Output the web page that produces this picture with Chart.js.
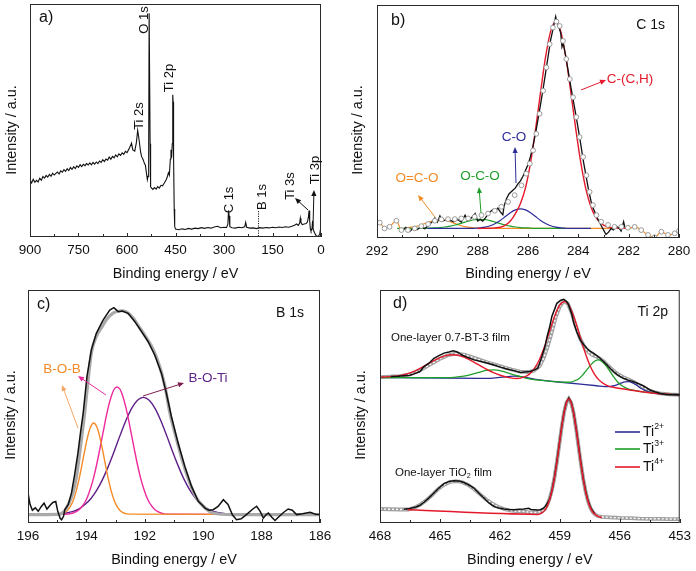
<!DOCTYPE html>
<html>
<head>
<meta charset="utf-8">
<script src="https://cdn.jsdelivr.net/npm/chart.js@4.4.1/dist/chart.umd.min.js"></script>
<style>
  html, body { margin: 0; padding: 0; background: #fff; }
  body { position: relative; width: 696px; height: 571px; overflow: hidden; }
  canvas { position: absolute; }
</style>
</head>
<body>
<canvas id="pa" width="348" height="285" style="left:0;top:0"></canvas>
<canvas id="pb" width="348" height="285" style="left:348px;top:0"></canvas>
<canvas id="pc" width="348" height="286" style="left:0;top:285px"></canvas>
<canvas id="pd" width="348" height="286" style="left:348px;top:285px"></canvas>
<script>
// ---- data: [binding energy (eV), intensity (a.u.)] ----
// a) survey
var survey = [[900,24.6],[895,23.2],[890,24.8],[885,23.5],[880,24.3],[875,23.6],[870,25.2],[865,24.4],[860,26.0],[855,25.3],[850,26.4],[845,25.7],[840,26.9],[835,26.1],[830,27.4],[825,26.6],[820,27.3],[815,27.9],[810,27.0],[805,28.4],[800,27.8],[795,28.9],[790,28.2],[785,29.3],[780,28.5],[775,29.8],[770,29.0],[765,30.2],[760,29.4],[755,30.5],[750,29.9],[745,31.0],[740,30.2],[735,31.2],[730,30.6],[725,31.5],[720,30.9],[715,31.8],[710,31.0],[705,32.0],[700,31.3],[695,32.2],[690,31.5],[685,32.6],[680,32.0],[675,33.2],[670,32.4],[665,33.5],[660,33.0],[655,34.3],[650,33.4],[645,34.6],[640,34.0],[635,35.2],[630,34.4],[625,35.7],[620,35.0],[615,36.1],[610,35.5],[605,36.8],[600,36.2],[595,37.5],[590,38.9],[586,40.3],[582,37.4],[576,36.9],[571,40.5],[567,45.8],[565,44.0],[562,41.0],[558,36.5],[555,34.6],[550,33.2],[546,31.5],[543,30.8],[540,27.5],[537,24.6],[535,26.0],[533,35.0],[531.5,96],[530,96],[528.5,40],[527,21.5],[524,21.0],[520,20.4],[515,21.2],[510,20.5],[505,21.6],[500,21.0],[495,22.2],[490,22.0],[485,23.1],[480,24.2],[476,25.5],[472,27.6],[469,26.5],[466,33.5],[464,37.5],[462,34.0],[460,40.0],[458.5,61.0],[457.5,58.0],[456,35.0],[454,12.0],[452.5,4.6],[450,3.4],[440,3.1],[430,3.5],[420,3.2],[410,3.7],[400,3.4],[390,3.8],[380,3.6],[370,4.0],[360,3.7],[350,4.1],[340,3.8],[330,4.3],[320,4.6],[310,4.0],[300,4.2],[292,4.1],[288,5.5],[286,11.4],[284,9.0],[282,4.4],[275,4.0],[265,3.8],[255,4.2],[245,4.0],[236,4.4],[233,6.3],[230,4.2],[220,3.8],[210,3.9],[200,3.6],[190,4.0],[180,3.8],[170,4.1],[160,3.9],[150,4.2],[140,4.0],[130,4.3],[120,4.1],[110,4.4],[100,4.2],[90,4.6],[82,5.0],[76,5.6],[70,5.0],[66,6.0],[64,8.1],[62,6.2],[58,5.3],[52,5.6],[46,5.8],[42,6.4],[39,8.5],[37,11.4],[35,7.0],[33,3.5],[31,2.6],[28,3.4],[26,7.0],[24,3.2],[20,1.8],[15,0.5],[11,0.2],[7,0.6],[4,1.2],[2,3.0],[0,2.4]];

// b) C 1s
var c1sRaw = [[291.0,3.0],[290.85,4.5],[290.7,2.8],[290.55,4.2],[290.4,3.6],[290.25,4.8],[290.1,4.0],[289.95,5.5],[289.8,7.0],[289.7,8.6],[289.6,6.8],[289.5,9.5],[289.4,7.2],[289.25,8.0],[289.1,7.6],[288.95,7.0],[288.8,8.0],[288.65,6.8],[288.5,9.8],[288.4,7.5],[288.25,8.6],[288.1,10.5],[288.0,7.3],[287.9,8.0],[287.8,7.2],[287.7,8.5],[287.55,10.8],[287.4,12.2],[287.3,11.5],[287.2,12.8],[287.1,11.2],[287.0,10.0],[286.95,13.8],[286.85,17.0],[286.75,19.0],[286.6,20.5],[286.5,21.5],[286.4,23.2],[286.3,24.5],[286.2,26.5],[286.1,29.0],[286.0,31.5],[285.9,35.0],[285.8,39.5],[285.7,45],[285.6,51],[285.5,57.5],[285.4,64],[285.3,71],[285.2,78],[285.1,85],[285.0,90],[284.9,95],[284.85,92.5],[284.8,91.5],[284.7,88],[284.65,82],[284.6,83.5],[284.5,78],[284.4,71.5],[284.3,65],[284.2,59],[284.1,53],[284.0,46.5],[283.9,40],[283.8,33],[283.7,27],[283.6,21],[283.5,16],[283.4,12.5],[283.3,10],[283.2,7.5],[283.1,5.5],[283.0,3.5],[282.9,1.5],[282.8,2.5],[282.7,4],[282.6,3.5],[282.5,5],[282.4,4.5],[282.3,3.0],[282.2,7.0],[282.15,4.5]];
var c1sFit = [[291.89,6.6],[291.7,4.1],[291.5,4.8],[291.23,7.4],[291.03,3.4],[290.77,3.4],[290.5,4.1],[290.24,5.1],[289.97,6.0],[289.7,7.4],[289.44,8.0],[289.18,8.1],[288.91,8.1],[288.65,8.4],[288.38,8.4],[288.12,9.1],[287.85,9.8],[287.59,10.5],[287.32,11.7],[287.06,13.4],[286.79,15.5],[286.53,18.4],[286.26,22.6],[286.07,27.6],[285.93,31.9],[285.8,37.6],[285.67,44.7],[285.54,53.3],[285.4,63.2],[285.27,73.2],[285.14,83.2],[285.01,90.3],[284.87,92.9],[284.74,91.0],[284.61,84.6],[284.48,76.8],[284.34,68.2],[284.21,60.4],[284.08,51.9],[283.95,43.3],[283.81,34.8],[283.68,26.9],[283.55,19.8],[283.42,14.1],[283.28,9.8],[283.09,7.0],[282.82,5.6],[282.56,4.8],[282.29,4.8],[282.03,4.4],[281.76,4.8],[281.5,3.4],[281.23,1.3],[280.97,0.3],[280.7,2.7],[280.44,1.3],[280.17,2.0],[280.0,3.1]];
var c1sCH = [[288.0,4.1],[287.5,4.2],[287.1,4.6],[286.9,5.5],[286.7,7.3],[286.5,10.5],[286.3,14.8],[286.1,21.5],[285.9,32.2],[285.7,46.6],[285.5,62.7],[285.3,77.8],[285.1,88.7],[284.9,92.7],[284.7,88.7],[284.5,77.8],[284.3,62.7],[284.1,46.6],[283.9,32.2],[283.7,21.0],[283.5,13.4],[283.3,8.8],[283.1,6.3],[282.9,5.0],[282.7,4.4],[282.5,4.2],[282.0,4.1]];
var c1sCO = [[290.0,4.1],[288.3,4.1],[288.1,4.19],[287.9,4.34],[287.7,4.65],[287.5,5.24],[287.3,6.19],[287.1,7.55],[286.9,9.19],[286.7,10.83],[286.5,12.05],[286.3,12.5],[286.1,12.05],[285.9,10.83],[285.7,9.19],[285.5,7.55],[285.3,6.19],[285.1,5.24],[284.9,4.65],[284.7,4.34],[284.5,4.19],[284.3,4.1],[283.5,4.1]];
var c1sOCO = [[291.2,4.1],[289.9,4.26],[289.7,4.34],[289.5,4.48],[289.3,4.71],[289.1,5.07],[288.9,5.57],[288.7,6.18],[288.5,6.83],[288.3,7.43],[288.1,7.85],[287.9,8.0],[287.7,7.85],[287.5,7.43],[287.3,6.83],[287.1,6.18],[286.9,5.57],[286.7,5.07],[286.5,4.71],[286.3,4.48],[286.1,4.34],[285.9,4.26],[285.7,4.1],[284.5,4.1]];
var c1sOCOO = [[292.0,6.6],[291.89,6.6],[291.7,4.1],[291.5,4.8],[291.23,7.4],[291.03,3.4],[290.9,4.3],[290.7,4.52],[290.5,4.87],[290.3,5.37],[290.1,6.2],[289.9,6.98],[289.7,7.5],[289.5,7.7],[289.3,7.5],[289.1,6.98],[288.9,6.2],[288.7,5.37],[288.5,4.87],[288.3,4.52],[288.1,4.3],[287.9,4.19],[287.7,4.1],[282.0,4.1],[281.76,4.8],[281.5,3.4],[281.23,1.3],[280.97,0.3],[280.7,2.7],[280.44,1.3],[280.17,2.0],[280.0,3.1]];

// c) B 1s
var b1sRaw = [[196.0,12.9],[195.93,8.0],[195.85,5.5],[195.75,6.5],[195.65,5.0],[195.55,7.0],[195.45,8.5],[195.35,6.0],[195.25,7.5],[195.15,8.8],[195.05,9.2],[194.98,5.0],[194.9,2.0],[194.85,1.4],[194.78,3.0],[194.74,5.7],[194.62,8.0],[194.51,12.9],[194.4,21.0],[194.29,30.0],[194.2,39.0],[194.11,47.2],[193.98,62.9],[193.83,74.3],[193.66,81.4],[193.43,87.1],[193.2,91.4],[193.06,92.4],[192.91,90.7],[192.77,91.0],[192.57,90.0],[192.34,86.4],[192.11,82.1],[191.89,77.9],[191.66,72.1],[191.43,64.3],[191.26,55.7],[191.09,45.7],[190.86,34.3],[190.63,24.3],[190.4,15.7],[190.17,9.3],[190.05,7.9],[189.94,6.4],[189.8,5.5],[189.66,5.7],[189.49,7.1],[189.31,10.0],[189.15,8.0],[189.0,3.5],[188.86,1.4],[188.7,1.8],[188.5,3.8],[188.3,6.0],[188.17,7.2],[188.05,5.0],[187.94,2.1],[187.85,3.5],[187.77,4.3],[187.65,2.5],[187.54,1.1],[187.4,2.8],[187.25,4.5],[187.09,6.0],[186.95,5.5],[186.8,3.6],[186.6,4.0],[186.34,4.6],[186.15,3.8],[186.0,3.6]];
var b1sFit = [[196.0,3.6],[195.0,3.7],[194.8,4.5],[194.62,8.0],[194.46,12.9],[194.34,20.0],[194.23,30.0],[194.14,39.0],[194.06,47.2],[193.94,61.5],[193.83,73.0],[193.66,80.1],[193.49,83.7],[193.31,87.3],[193.09,90.1],[192.8,91.1],[192.63,90.6],[192.4,88.0],[192.17,83.7],[191.94,79.4],[191.71,74.4],[191.49,67.2],[191.31,58.7],[191.14,47.2],[190.91,35.8],[190.69,25.8],[190.46,17.2],[190.23,10.7],[190.0,7.2],[189.66,4.3],[188.97,3.6],[186.0,3.6]];
var b1sBOB = [[196.0,3.6],[194.95,3.8],[194.85,4.0],[194.75,4.5],[194.65,5.4],[194.55,7.1],[194.45,9.8],[194.35,13.7],[194.25,18.9],[194.15,25.1],[194.05,31.6],[193.95,37.4],[193.85,41.4],[193.75,42.9],[193.65,41.4],[193.55,37.4],[193.45,31.6],[193.35,25.1],[193.25,18.9],[193.15,13.7],[193.05,9.8],[192.95,7.1],[192.85,5.4],[192.75,4.5],[192.65,4.0],[192.55,3.8],[186.0,3.6]];
var b1sBOB2 = [[196.0,3.6],[194.65,3.8],[194.55,4.0],[194.45,4.3],[194.35,4.9],[194.25,5.7],[194.15,7.1],[194.05,8.9],[193.95,11.6],[193.85,15.2],[193.75,19.6],[193.65,25.0],[193.55,31.1],[193.45,37.5],[193.35,43.9],[193.25,49.7],[193.15,54.3],[193.05,57.4],[192.95,58.4],[192.85,57.4],[192.75,54.3],[192.65,49.7],[192.55,43.9],[192.45,37.5],[192.35,31.1],[192.25,25.0],[192.15,19.6],[192.05,15.2],[191.95,11.6],[191.85,8.9],[191.75,7.1],[191.65,5.7],[191.55,4.9],[191.45,4.3],[191.35,4.0],[191.25,3.8],[186.0,3.6]];
var b1sBOTi = [[196.0,3.6],[195.05,3.8],[194.85,4.0],[194.65,4.4],[194.45,5.0],[194.25,6.1],[194.05,7.9],[193.85,10.4],[193.65,14.0],[193.45,18.6],[193.25,24.3],[193.05,30.7],[192.85,37.5],[192.65,43.9],[192.45,49.2],[192.25,52.7],[192.05,53.9],[191.85,52.7],[191.65,49.2],[191.45,43.9],[191.25,37.5],[191.05,30.7],[190.85,24.3],[190.65,18.6],[190.45,14.0],[190.25,10.4],[190.05,7.9],[189.85,6.1],[189.65,5.0],[189.45,4.4],[189.25,4.0],[189.05,3.8],[186.0,3.6]];

// d) Ti 2p, one-layer 0.7-BT-3 film (upper) and TiO2 film (lower)
var btRaw = [[467.45,62.9],[467.1,63.0],[466.8,63.2],[466.5,63.4],[466.3,64.0],[466.0,65.0],[465.8,67.1],[465.55,68.6],[465.3,70.7],[465.05,71.8],[464.8,72.9],[464.55,73.4],[464.33,73.9],[464.1,73.3],[463.9,72.1],[463.6,71.0],[463.3,70.0],[462.95,69.3],[462.6,68.6],[462.3,67.8],[461.97,66.9],[461.65,66.1],[461.3,65.4],[460.97,64.6],[460.75,64.8],[460.5,65.0],[460.3,65.6],[460.1,66.4],[459.9,71.4],[459.75,75.5],[459.64,80.0],[459.5,84.5],[459.4,88.6],[459.25,92.0],[459.15,94.3],[458.95,95.6],[458.8,96.0],[458.65,95.0],[458.56,93.6],[458.4,89.5],[458.3,85.7],[458.15,82.0],[457.98,78.6],[457.8,76.5],[457.65,75.0],[457.5,73.9],[457.32,72.9],[457.15,71.8],[456.99,70.7],[456.8,69.2],[456.65,67.9],[456.5,66.5],[456.32,65.0],[456.1,63.5],[455.82,62.1],[455.55,61.2],[455.33,60.7],[455.1,59.9],[454.83,58.9],[454.65,58.0],[454.5,57.1],[454.25,56.3],[454.0,55.7],[453.7,55.2],[453.5,55.0],[453.2,55.1],[453.0,55.0]];
var btFit = [[468,62.6],[467.5,62.8],[467,63.0],[466.5,63.8],[466,65.5],[465.5,68.0],[465,70.5],[464.6,72.0],[464.2,72.7],[463.8,72.3],[463.4,71.2],[463,70.0],[462.6,68.9],[462.2,67.9],[461.8,66.8],[461.4,65.8],[461,65.0],[460.6,64.8],[460.3,65.3],[460,67.5],[459.8,71],[459.6,76],[459.4,82],[459.2,88.5],[459,93],[458.8,95.2],[458.6,94.2],[458.4,90],[458.2,84.5],[458,79.5],[457.8,76],[457.6,73.6],[457.4,72.3],[457.2,71.5],[457,70.6],[456.8,69.3],[456.6,67.6],[456.4,66.0],[456.2,64.5],[456,63.4],[455.8,62.5],[455.5,61.4],[455.2,60.0],[454.9,58.6],[454.6,57.2],[454.3,56.2],[454,55.6],[453.5,55.2],[453,55.0]];
var btTi4 = [[468,62.6],[467.55,62.8],[467.15,63.1],[466.75,63.8],[466.35,64.9],[465.95,66.6],[465.55,68.5],[465.15,70.3],[464.75,71.7],[464.35,72.2],[463.95,71.6],[463.55,70.2],[463.15,68.3],[462.75,66.4],[462.35,64.6],[461.95,63.3],[461.55,62.4],[461.15,62.0],[460.77,62.7],[460.52,63.9],[460.27,66.33],[460.02,70.15],[459.77,75.6],[459.52,82.15],[459.27,88.55],[459.02,93.35],[458.77,95.0],[458.52,92.96],[458.27,87.75],[458.02,80.94],[457.77,74.0],[457.52,68.15],[457.27,63.93],[457.02,61.21],[456.77,59.58],[456.52,58.63],[456.27,58.16],[455.5,57.1],[454.3,55.7],[453,55.0]];
var btTi3 = [[468,62.4],[464.7,62.4],[464.3,62.5],[463.9,62.9],[463.5,63.6],[463.1,64.5],[462.7,65.5],[462.3,65.7],[461.9,65.2],[461.5,64.1],[461.1,63.1],[460.7,62.2],[460.3,61.5],[459.9,61.2],[459.3,60.65],[458.65,60.4],[458.45,60.5],[458.25,61.05],[458.05,61.95],[457.85,63.6],[457.65,65.75],[457.45,67.85],[457.25,69.5],[457.05,70.0],[456.85,69.1],[456.65,67.05],[456.45,64.55],[456.25,62.05],[456.05,60.0],[455.85,58.7],[455.65,57.8],[455.45,57.25],[454.3,55.7],[453,55.0]];
var btTi2 = [[468,62.5],[463,62.1],[462.5,62.1],[461.9,62.6],[461.3,63.0],[460.7,62.5],[460.1,61.5],[458.8,60.3],[457.15,58.9],[456.75,58.55],[456.55,58.55],[456.35,58.8],[456.15,59.3],[455.95,60.0],[455.75,60.6],[455.55,60.7],[455.35,60.1],[455.15,59.1],[454.95,57.8],[454.75,56.9],[454.55,56.3],[454.35,55.85],[453,55.0]];
var tiRaw = [[466.8,5.9],[466.5,6.2],[466.2,6.9],[466.0,7.6],[465.8,8.9],[465.55,10.8],[465.3,12.9],[465.05,15.0],[464.8,16.9],[464.55,17.8],[464.3,18.1],[464.05,18.0],[463.8,17.4],[463.55,16.3],[463.3,15.0],[463.05,12.8],[462.8,10.7],[462.55,8.6],[462.3,7.1],[462.05,6.4],[461.8,6.0],[461.55,5.8],[461.3,5.7],[461.05,5.9],[460.8,6.0],[460.56,6.3],[460.45,5.8],[460.3,5.7],[460.1,5.6],[459.98,5.7],[459.85,6.2],[459.73,7.1],[459.6,8.8],[459.5,10.6],[459.39,14.2],[459.27,19.6],[459.15,26.3],[459.03,33.8],[458.91,41.3],[458.79,47.5],[458.67,51.8],[458.55,53.6],[458.43,51.8],[458.31,47.4],[458.19,40.9],[458.07,33.4],[457.95,25.9],[457.83,19.2],[457.71,13.7],[457.59,9.6],[457.47,6.8],[457.35,5.0],[457.25,4.0]];
var tiFit = [[468,6.0],[467.5,5.9],[467,5.8],[466.6,5.8],[466.3,6.5],[466,7.8],[465.7,9.6],[465.4,12.0],[465.1,14.5],[464.8,16.4],[464.5,17.6],[464.2,18.0],[463.9,17.6],[463.6,16.4],[463.3,14.6],[463,12.4],[462.7,10.2],[462.4,8.4],[462.1,7.0],[461.8,6.0],[461.5,5.4],[461.2,5.1],[460.9,5.0],[460.6,4.7],[460.3,4.5],[460.1,4.6],[459.87,5.0],[459.75,6.0],[459.63,7.8],[459.51,10.5],[459.39,14.3],[459.27,19.5],[459.15,26.1],[459.03,33.5],[458.91,41.0],[458.79,47.4],[458.67,51.6],[458.55,53.3],[458.43,51.5],[458.31,47.2],[458.19,40.7],[458.07,33.2],[457.95,25.7],[457.83,18.9],[457.71,13.5],[457.59,9.4],[457.47,6.5],[457.35,4.7],[457.23,3.6],[457.11,3.0],[456.9,2.6],[456.5,2.4],[456,2.2],[455.5,2.1],[455,1.9],[454.5,1.8],[454,1.8],[453.5,1.7],[453,1.7]];
var tiTi4 = [[466.62,5.7],[460.11,3.7],[459.99,3.94],[459.87,4.55],[459.75,5.51],[459.63,7.27],[459.51,10.02],[459.39,14.08],[459.27,19.44],[459.15,26.1],[459.03,33.56],[458.91,41.0],[458.79,47.37],[458.67,51.64],[458.55,53.2],[458.43,51.55],[458.31,47.2],[458.19,40.75],[458.07,33.22],[457.95,25.68],[457.83,18.94],[457.71,13.5],[457.59,9.36],[457.47,6.51],[457.35,4.67],[457.23,3.63],[457.11,2.96],[456.9,2.3]];

// axis ranges [from, to, step]
var rangeA = [900, 0, 150];
var rangeB = [292, 280, 2];
var rangeC = [196, 186, 2];
var rangeD = [468, 453, 3];

var FONT = '"Liberation Sans", Arial, Helvetica, sans-serif';
Chart.defaults.font.family = FONT;
Chart.defaults.color = '#111';

var RED = '#e5192b', GREEN = '#1f9f29', BLUE = '#2d2d98', ORANGE = '#f38b26',
    MAGENTA = '#ec2a9b', PURPLE = '#5c1f88', BLACK = '#111';

function pts(arr) {
    return arr.map(function (p) { return {x: p[0], y: p[1]}; });
}

function line(arr, color, width, order, extra) {
    var ds = {
        data: pts(arr),
        showLine: true,
        borderColor: color,
        borderWidth: width,
        pointRadius: 0,
        fill: false,
        tension: 0,
        order: order
    };
    for (var k in extra || {}) ds[k] = extra[k];
    return ds;
}
var SMOOTH = {cubicInterpolationMode: 'monotone'};

// frame, inward ticks, labels, arrows
function decor(cfg) {
    return {
        id: 'decor',
        afterDatasetsDraw: function (chart) {
            var ctx = chart.ctx, a = chart.chartArea, xs = chart.scales.x;
            ctx.save();
            ctx.strokeStyle = '#2a2a2a';
            ctx.lineWidth = 1;
            ctx.strokeRect(a.left + 0.5, a.top + 0.5, a.right - a.left - 1, a.bottom - a.top - 1);

            var lo = Math.min(cfg.range[0], cfg.range[1]), hi = Math.max(cfg.range[0], cfg.range[1]);
            var step = cfg.range[2];
            for (var i = 0; lo + i * step / 2 <= hi + 1e-6; i++) {
                var px = Math.round(xs.getPixelForValue(lo + i * step / 2)) + 0.5;
                ctx.beginPath();
                ctx.moveTo(px, a.bottom);
                ctx.lineTo(px, a.bottom - (i % 2 === 0 ? 4 : 3));
                ctx.stroke();
            }

            // y title
            text(ctx, {t: 'Intensity / a.u.', x: cfg.ytitle[0], y: cfg.ytitle[1], s: 14.4, rot: 1});

            (cfg.dots || []).forEach(function (d) {
                ctx.save();
                ctx.strokeStyle = '#222';
                ctx.setLineDash([1.2, 1.2]);
                ctx.beginPath();
                ctx.moveTo(d[0], d[1]);
                ctx.lineTo(d[0], d[2]);
                ctx.stroke();
                ctx.restore();
            });
            (cfg.arrows || []).forEach(function (ar) { arrow(ctx, ar); });
            (cfg.texts || []).forEach(function (t) { text(ctx, t); });
            (cfg.rich || []).forEach(function (r) { rich(ctx, r); });
            (cfg.keys || []).forEach(function (k) {
                ctx.strokeStyle = k.c;
                ctx.lineWidth = 1.6;
                ctx.beginPath();
                ctx.moveTo(k.x1, k.y);
                ctx.lineTo(k.x2, k.y);
                ctx.stroke();
            });
            ctx.restore();
        }
    };
}

function text(ctx, t) {
    ctx.save();
    ctx.translate(t.x, t.y);
    if (t.rot) ctx.rotate(-Math.PI / 2);
    ctx.fillStyle = t.c || BLACK;
    ctx.font = (t.s || 14) + 'px ' + FONT;
    ctx.textAlign = t.al || 'center';
    ctx.textBaseline = 'middle';
    ctx.fillText(t.t, 0, 0);
    ctx.restore();
}

// text with sub/superscripts: parts = [[str, 'n'|'sup'|'sub']]
function rich(ctx, r) {
    ctx.save();
    ctx.fillStyle = r.c || BLACK;
    ctx.textBaseline = 'middle';
    ctx.textAlign = 'left';
    var x = r.x;
    r.parts.forEach(function (p) {
        var size = p[1] === 'n' ? r.s : r.s * 0.62;
        var dy = p[1] === 'sup' ? -r.s * 0.38 : (p[1] === 'sub' ? r.s * 0.3 : 0);
        ctx.font = size + 'px ' + FONT;
        ctx.fillText(p[0], x, r.y + dy);
        x += ctx.measureText(p[0]).width;
    });
    ctx.restore();
}

function arrow(ctx, ar) {
    var x1 = ar.f[0], y1 = ar.f[1], x2 = ar.to[0], y2 = ar.to[1];
    var ang = Math.atan2(y2 - y1, x2 - x1), L = 6, W = 2.6;
    ctx.save();
    ctx.strokeStyle = ar.c || BLACK;
    ctx.fillStyle = ar.c || BLACK;
    ctx.lineWidth = 1;
    ctx.beginPath();
    ctx.moveTo(x1, y1);
    ctx.lineTo(x2 - Math.cos(ang) * L * 0.8, y2 - Math.sin(ang) * L * 0.8);
    ctx.stroke();
    ctx.beginPath();
    ctx.moveTo(x2, y2);
    ctx.lineTo(x2 - Math.cos(ang) * L - Math.sin(ang) * W, y2 - Math.sin(ang) * L + Math.cos(ang) * W);
    ctx.lineTo(x2 - Math.cos(ang) * L + Math.sin(ang) * W, y2 - Math.sin(ang) * L - Math.cos(ang) * W);
    ctx.closePath();
    ctx.fill();
    ctx.restore();
}

function panel(id, range, box, datasets, cfg) {
    cfg.range = range;
    return new Chart(document.getElementById(id), {
        type: 'scatter',
        data: {datasets: datasets},
        options: {
            responsive: false,
            animation: false,
            events: [],
            layout: {padding: {left: box.l, right: box.r, top: box.t, bottom: 0}},
            plugins: {legend: {display: false}, tooltip: {enabled: false}},
            scales: {
                x: {
                    type: 'linear',
                    reverse: range[0] > range[1],
                    min: Math.min(range[0], range[1]),
                    max: Math.max(range[0], range[1]),
                    ticks: {stepSize: range[2], padding: 5, maxRotation: 0, autoSkip: false,
                            font: {size: 13.5}, color: BLACK},
                    grid: {display: false, drawTicks: false},
                    border: {display: false},
                    title: {display: true, text: 'Binding energy / eV', color: BLACK,
                            font: {size: 14.4}, padding: {top: 0, bottom: 2}},
                    afterFit: function (s) { s.height = box.h - box.b; }
                },
                y: {display: false, min: 0, max: 100}
            }
        },
        plugins: [decor(cfg)]
    });
}

// a) survey
panel('pa', rangeA, {l: 30, r: 27, t: 4, b: 237, h: 285}, [
    line(survey, BLACK, 1.1, 0)
], {
    ytitle: [12, 130],
    texts: [
        {t: 'a)', x: 39, y: 18, s: 16, al: 'left'},
        {t: 'O 1s', x: 144, y: 20, s: 13, rot: 1},
        {t: 'Ti 2s', x: 139.5, y: 116, s: 13, rot: 1},
        {t: 'Ti 2p', x: 169, y: 78, s: 13, rot: 1},
        {t: 'C 1s', x: 229.5, y: 200, s: 13, rot: 1},
        {t: 'B 1s', x: 262, y: 197, s: 13, rot: 1},
        {t: 'Ti 3s', x: 290, y: 186, s: 13, rot: 1},
        {t: 'Ti 3p', x: 315, y: 170, s: 13, rot: 1}
    ],
    arrows: [
        {f: [308, 210], to: [295, 198]},
        {f: [313, 226], to: [314, 190]}
    ],
    dots: [[258.5, 211, 237]]
});

// b) C 1s
panel('pb', rangeB, {l: 29, r: 17, t: 4, b: 238, h: 285}, [
    line(c1sFit, '#9a9a9a', 0, 0, {showLine: false, pointRadius: 2.4, pointBorderWidth: 1,
        pointBorderColor: '#9a9a9a', pointBackgroundColor: '#fff'}),
    line(c1sRaw, BLACK, 1.3, 1),
    line(c1sCH, RED, 1.4, 2, SMOOTH),
    line(c1sCO, BLUE, 1.2, 3, SMOOTH),
    line(c1sOCO, GREEN, 1.2, 4, SMOOTH),
    line(c1sOCOO, ORANGE, 1.2, 5, SMOOTH)
], {
    ytitle: [10, 130],
    texts: [
        {t: 'b)', x: 43, y: 21, s: 16, al: 'left'},
        {t: 'C 1s', x: 317, y: 25, s: 14, al: 'right'},
        {t: 'C-(C,H)', x: 282, y: 79, s: 13.5, c: RED},
        {t: 'C-O', x: 166, y: 137, s: 13.5, c: BLUE},
        {t: 'O-C-O', x: 132, y: 176, s: 13.5, c: GREEN},
        {t: 'O=C-O', x: 69, y: 178, s: 13.5, c: ORANGE}
    ],
    arrows: [
        {f: [233, 90], to: [258, 80], c: RED},
        {f: [168, 183], to: [167, 147], c: BLUE},
        {f: [133, 213], to: [131, 187], c: GREEN},
        {f: [87, 217], to: [70, 195], c: ORANGE}
    ]
});

// c) B 1s
panel('pc', rangeC, {l: 28, r: 28, t: 5, b: 238, h: 286}, [
    line(b1sRaw, BLACK, 1.5, 0),
    line(b1sFit, '#a9a9a9', 3.2, 1, SMOOTH),
    line(b1sBOB, ORANGE, 1.4, 2, SMOOTH),
    line(b1sBOB2, MAGENTA, 1.4, 3, SMOOTH),
    line(b1sBOTi, PURPLE, 1.4, 4, SMOOTH)
], {
    ytitle: [11, 130],
    texts: [
        {t: 'c)', x: 37, y: 20, s: 16, al: 'left'},
        {t: 'B 1s', x: 304, y: 28, s: 14, al: 'right'},
        {t: 'B-O-B', x: 62, y: 84, s: 13.5, c: ORANGE},
        {t: 'B-O-Ti', x: 208, y: 93, s: 13.5, c: PURPLE}
    ],
    arrows: [
        {f: [78, 143], to: [62, 100], c: '#f5a766'},
        {f: [106, 110], to: [78, 91], c: MAGENTA},
        {f: [143, 111], to: [184, 98], c: '#7d1f4e'}
    ]
});

// d) Ti 2p
panel('pd', rangeD, {l: 32, r: 15, t: 5, b: 238, h: 286}, [
    line(tiTi4, RED, 1.5, 0, SMOOTH),
    line(btRaw, BLACK, 1.5, 1),
    line(tiRaw, BLACK, 1.5, 1),
    line(btTi4, RED, 1.4, 2, SMOOTH),
    line(btTi3, GREEN, 1.3, 3, SMOOTH),
    line(btTi2, BLUE, 1.3, 4, SMOOTH),
    line(btFit, '#ffffff', 1.4, 5, {borderDash: [2, 2]}),
    line(tiFit, '#ffffff', 1.4, 5, {borderDash: [2, 2]}),
    line(btFit, '#a0a0a0', 3.8, 6),
    line(tiFit, '#a0a0a0', 3.8, 6)
], {
    ytitle: [13, 130],
    texts: [
        {t: 'd)', x: 45, y: 19, s: 16, al: 'left'},
        {t: 'Ti 2p', x: 320, y: 27, s: 14, al: 'right'},
        {t: 'One-layer 0.7-BT-3 film', x: 43, y: 53, s: 11.5, al: 'left'}
    ],
    rich: [
        {x: 47, y: 188, s: 11.5, parts: [['One-layer TiO', 'n'], ['2', 'sub'], [' film', 'n']]},
        {x: 295, y: 147, s: 14, parts: [['Ti', 'n'], ['2+', 'sup']]},
        {x: 295, y: 164, s: 14, parts: [['Ti', 'n'], ['3+', 'sup']]},
        {x: 295, y: 182, s: 14, parts: [['Ti', 'n'], ['4+', 'sup']]}
    ],
    keys: [
        {x1: 267, x2: 292, y: 147, c: BLUE},
        {x1: 267, x2: 292, y: 164, c: GREEN},
        {x1: 267, x2: 292, y: 182, c: RED}
    ]
});
</script>
</body>
</html>
